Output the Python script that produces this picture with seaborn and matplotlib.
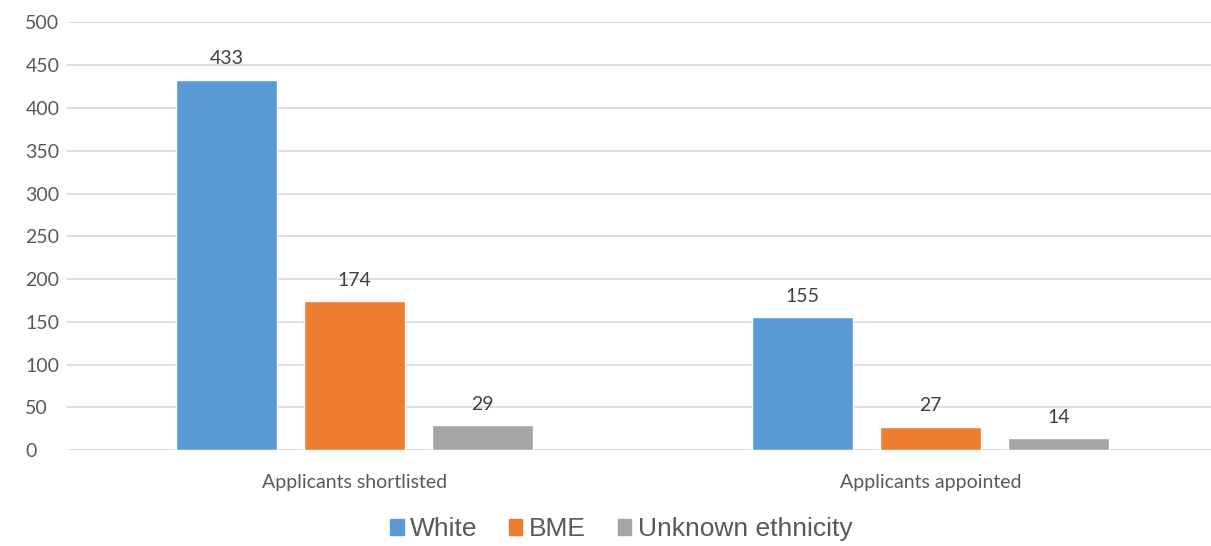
import pandas as pd
import seaborn as sns
import matplotlib.pyplot as plt

# data
categories = ['Applicants shortlisted', 'Applicants appointed']
groups = ['White', 'BME', 'Unknown ethnicity']
white = [433, 155]
bme = [174, 27]
unknown = [29, 14]

colors = ['#5B9BD5', '#ED7D31', '#A5A5A5']
text_color = '#595959'

df = pd.DataFrame({
    'category': categories * 3,
    'group': [g for g in groups for _ in categories],
    'value': white + bme + unknown,
})

sns.set_style('white')
plt.rcParams['font.family'] = ['Lato', 'DejaVu Sans']

fig = plt.figure(figsize=(12.11, 5.46), dpi=100)
ax = fig.add_axes([0.0553, 0.1758, 0.9505, 0.783])

sns.barplot(
    data=df, x='category', y='value', hue='group',
    order=categories, hue_order=groups, palette=colors,
    width=0.667, gap=0.21, saturation=1, ax=ax, legend=False,
)

for cont in ax.containers:
    ax.bar_label(cont, padding=9, fontsize=14, color='#404040')

ax.set_ylim(0, 500)
ax.set_xlim(-0.5, 1.5)
ax.set_yticks(range(0, 501, 50))
ax.yaxis.grid(True, color='#D9D9D9', linewidth=1.2)
ax.set_axisbelow(True)
for s in ax.spines.values():
    s.set_visible(False)
ax.tick_params(axis='both', length=0, labelsize=14, colors=text_color)
ax.tick_params(axis='x', pad=17)
ax.tick_params(axis='y', pad=30)
for lbl in ax.get_yticklabels():
    lbl.set_horizontalalignment('left')
ax.set_xlabel('')
ax.set_ylabel('')

handles = [plt.Rectangle((0, 0), 1, 1, color=c) for c in colors]
leg = fig.legend(
    handles, groups, loc='lower center', bbox_to_anchor=(0.513, -0.035),
    ncol=3, frameon=False, handlelength=0.5, handleheight=0.5,
    handletextpad=0.25, columnspacing=1.2,
    prop={'family': 'Liberation Sans', 'size': 19},
)
for t in leg.get_texts():
    t.set_color(text_color)

fig.savefig('out.png', dpi=100)
